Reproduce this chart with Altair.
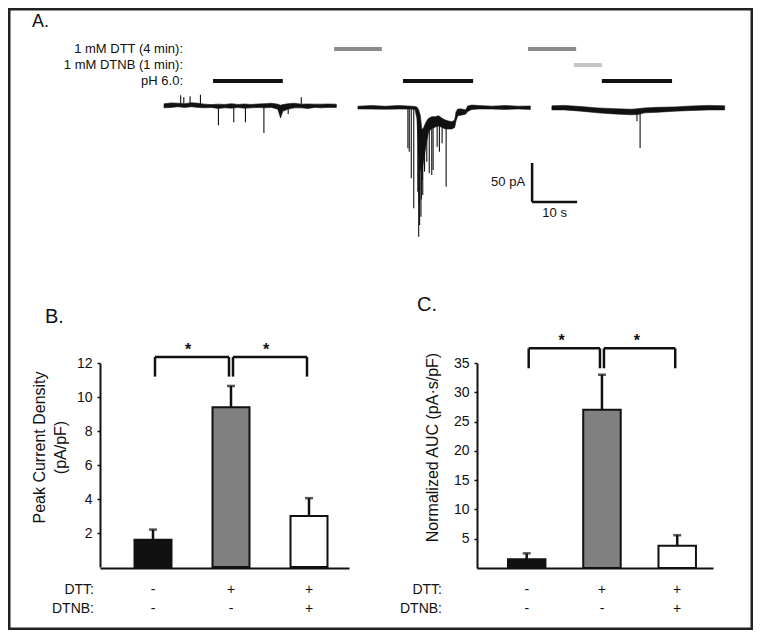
import altair as alt
import pandas as pd

FONT = "Liberation Sans"
INK = "#111111"

# ---------------- Panel A: current traces ----------------
sweep_start = [0.0, 43.1, 86.2]   # display time (s) where each sweep begins

# sweep 1 (control): noise envelope (time s, upper pA, lower pA)
s1_t = [0, 1.6, 3.1, 4.6, 6.1, 7.6, 9.0, 10.5, 12.0, 13.5, 15.0, 16.4, 17.9, 19.4,
        20.9, 22.4, 23.9, 25.3, 25.9, 26.4, 27.6, 29.0, 30.5, 32.0, 33.5, 35.0, 36.4, 38.3]
s1_hi = [2.8, 4.0, 3.6, 3.0, 4.2, 3.6, 2.4, 1.8, 2.4, 2.0, 3.0, 2.0, 2.6, 2.0,
         2.6, 3.0, 3.6, 2.4, 1.0, 1.8, 3.0, 3.6, 2.4, 2.6, 2.4, 2.4, 2.6, 2.4]
s1_lo = [-2.4, -1.8, -1.0, -1.8, -1.0, -1.8, -2.4, -1.8, -3.2, -2.4, -2.8, -2.0, -2.8, -2.4,
         -1.8, -2.4, -1.8, -4.2, -15.4, -6.8, -4.0, -2.4, -2.4, -3.2, -1.8, -2.4, -1.8, -1.8]
s1_sp_t = [3.7, 4.4, 5.8, 8.1, 30.5, 12.1, 15.5, 18.1, 22.2, 27.6]
s1_sp_base = [3, 3, 3, 3, 2, -2, -2, -2, -2, -3]
s1_sp_peak = [13.7, 11.1, 12.4, 14.5, 11.1, -24.8, -20.9, -20.9, -34.6, -10.3]

# sweep 2 (after DTT)
s2_t = [0, 3.1, 6.1, 9.0, 12.0, 12.7, 13.1, 13.5, 13.85, 14.2, 14.6, 15.0, 15.3, 15.7, 16.4,
        17.2, 17.9, 18.7, 19.4, 20.1, 20.9, 21.5, 21.8, 22.2, 23.1, 23.9, 24.4, 25.3, 26.8,
        29.8, 32.7, 35.7, 38.3]
s2_hi = [-0.2, 0.5, -0.3, 0.6, -0.2, -0.8, -1.3, -5.0, -12.0, -30.0, -28.0, -22.0, -19.0, -15.8, -13.7,
         -13.7, -12.4, -15.8, -17.9, -19.2, -20.1, -17.9, -7.3, -3.8, -3.8, -5.1, 0.0, 1.2, 0.6,
         -0.2, 0.6, -0.2, 0.0]
s2_lo = [-3.8, -4.0, -4.2, -3.9, -4.0, -4.6, -16.0, -60.0, -80.0, -85.0, -70.0, -55.0, -45.0, -33.0, -29.0,
         -27.0, -25.5, -27.5, -29.5, -29.5, -29.5, -27.5, -19.0, -12.5, -11.5, -10.5, -7.0, -4.4, -3.8,
         -3.9, -4.4, -3.8, -4.4]
s2_sp_t = [11.1, 11.4, 11.85, 12.4, 13.3, 13.5, 13.6, 13.7, 14.0, 14.1, 14.3, 14.4, 14.8, 15.3,
           15.85, 16.4, 16.7, 17.6, 18.1, 18.7, 19.6]
s2_sp_base = [-2, -2, -2, -3, -10, -20, -20, -20, -30, -30, -35, -40, -30, -25,
              -20, -20, -18, -15, -15, -18, -20]
s2_sp_peak = [-54.3, -58.5, -92.7, -131.2, -110.0, -167.5, -125.0, -152.6, -141.9, -120.0, -95.0, -114.1,
              -84.2, -71.4, -86.3, -88.5, -82.0, -52.1, -58.5, -47.9, -103.4]

# sweep 3 (DTT then DTNB)
s3_t = [0, 2.8, 6.5, 10.2, 13.9, 17.6, 19.1, 20.6, 23.6, 27.3, 31.0, 34.7, 38.4]
s3_hi = [0.2, 0.8, -0.8, -2.5, -3.4, -4.2, -3.4, -2.5, -1.7, -1.2, 0.0, 0.8, 0.2]
s3_lo = [-5.0, -5.0, -6.6, -8.8, -10.2, -11.2, -10.8, -8.8, -8.0, -6.6, -5.8, -5.0, -5.0]
s3_sp_t = [18.9, 19.6]
s3_sp_base = [-9, -9]
s3_sp_peak = [-19.7, -53.8]

# treatment bars (display time, s)
treat_rows = ["1 mM DTT (4 min):", "1 mM DTNB (1 min):", "pH 6.0:"]
treat_row = ["1 mM DTT (4 min):", "pH 6.0:", "pH 6.0:", "1 mM DTT (4 min):", "1 mM DTNB (1 min):", "pH 6.0:"]
treat_start = [37.8, 10.9, 53.1, 80.9, 91.1, 97.3]
treat_end = [48.4, 26.4, 68.7, 91.6, 97.3, 112.9]
treat_colors = ["#8a8a8a", "#c4c4c4", INK]

# scale bar
sb_t0, sb_i0 = 81.8, -123.0
sb_dt, sb_di = 10.0, 50.0

# ---------------- Panels B & C ----------------
groups = ["control", "DTT", "DTT+DTNB"]
bar_colors = [INK, "#808080", "#ffffff"]
peak_mean = [1.6, 9.4, 3.0]
peak_sem = [0.6, 1.25, 1.05]
auc_mean = [1.5, 27.0, 3.8]
auc_sem = [1.0, 6.0, 1.8]
dtt_signs = ["-", "+", "+"]
dtnb_signs = ["-", "-", "+"]
pair_left = ["control", "DTT"]
pair_right = ["DTT", "DTT+DTNB"]
peak_bracket_top, peak_bracket_leg = 12.35, 11.2
auc_bracket_top, auc_bracket_leg = 37.5, 34.1

# ---------------- data frames ----------------
env_rows, sp_rows = [], []
for k, (tt, hi, lo, st, sb, sp) in enumerate([
        (s1_t, s1_hi, s1_lo, s1_sp_t, s1_sp_base, s1_sp_peak),
        (s2_t, s2_hi, s2_lo, s2_sp_t, s2_sp_base, s2_sp_peak),
        (s3_t, s3_hi, s3_lo, s3_sp_t, s3_sp_base, s3_sp_peak)]):
    for a, b, c in zip(tt, hi, lo):
        env_rows.append({"sweep": k, "t": sweep_start[k] + a, "hi": b, "lo": c})
    for a, b, c in zip(st, sb, sp):
        sp_rows.append({"sweep": k, "t": sweep_start[k] + a, "base": b, "peak": c})
env_df = pd.DataFrame(env_rows)
sp_df = pd.DataFrame(sp_rows)
treat_df = pd.DataFrame({"row": treat_row, "start": treat_start, "end": treat_end})
treat_lab = pd.DataFrame({"row": treat_rows})
sb_df = pd.DataFrame({"t0": [sb_t0], "t1": [sb_t0 + sb_dt], "i0": [sb_i0], "i1": [sb_i0 + sb_di],
                      "imid": [sb_i0 + sb_di / 2], "tmid": [sb_t0 + sb_dt / 2]})

XA = dict(domain=[0, 125], range=[156, 718.5], nice=False, zero=False)
YA = dict(domain=[-180, 20], range=[238.4, 82.4], nice=False, zero=False)


def xa(f):
    return alt.X(f, type="quantitative", scale=alt.Scale(**XA), axis=None)


def ya(f):
    return alt.Y(f, type="quantitative", scale=alt.Scale(**YA), axis=None)


layers = []
layers.append(alt.Chart(env_df).mark_area(color=INK, stroke=INK, strokeWidth=0.6).encode(
    x=xa("t"), y=ya("lo"), y2=alt.Y2("hi"), detail="sweep:N"))
layers.append(alt.Chart(sp_df).mark_rule(color=INK, strokeWidth=1.1).encode(
    x=xa("t"), y=ya("base"), y2=alt.Y2("peak")))
layers.append(alt.Chart(treat_df).mark_rule(strokeWidth=4).encode(
    x=xa("start"), x2=alt.X2("end"),
    y=alt.Y("row:N", scale=alt.Scale(type="point", domain=treat_rows, range=[41, 73], padding=0), axis=None),
    color=alt.Color("row:N", scale=alt.Scale(domain=treat_rows, range=treat_colors), legend=None)))
layers.append(alt.Chart(treat_lab).mark_text(align="right", baseline="middle", font=FONT, fontSize=13, color=INK).encode(
    x=alt.value(175),
    y=alt.Y("row:N", scale=alt.Scale(type="point", domain=treat_rows, range=[41, 73], padding=0), axis=None),
    text="row:N"))
layers.append(alt.Chart(sb_df).mark_rule(color=INK, strokeWidth=2.5).encode(
    x=xa("t0"), y=ya("i0"), y2=alt.Y2("i1")))
layers.append(alt.Chart(sb_df).mark_rule(color=INK, strokeWidth=2.5).encode(
    x=xa("t0"), x2=alt.X2("t1"), y=ya("i0")))
layers.append(alt.Chart(sb_df).mark_text(text="50 pA", align="right", baseline="middle", dx=-7,
                                         font=FONT, fontSize=13, color=INK).encode(
    x=xa("t0"), y=ya("imid")))
layers.append(alt.Chart(sb_df).mark_text(text="10 s", align="center", baseline="middle", dy=11,
                                         font=FONT, fontSize=13, color=INK).encode(
    x=xa("tmid"), y=ya("i0")))

# panel letters
for txt, px, py, fs in [("A.", 24, 13.5, 18), ("B.", 37, 309, 20), ("C.", 409, 297, 20)]:
    layers.append(alt.Chart(pd.DataFrame({"l": [txt]})).mark_text(
        align="left", baseline="middle", font=FONT, fontSize=fs, color=INK).encode(
        x=alt.value(px), y=alt.value(py), text="l:N"))


def bar_panel(mean, sem, ydom, yrng, ytitle, yvals, axis_x, xr, pi, po, al,
              btop, bleg, title_x, label_x):
    df = pd.DataFrame({"group": groups, "mean": mean, "top": [m + s for m, s in zip(mean, sem)]})
    br = pd.DataFrame({"left": pair_left, "right": pair_right,
                       "top": [btop] * len(pair_left), "leg": [bleg] * len(pair_left)})
    tab = pd.DataFrame({"group": groups * 2, "row": ["DTT:"] * 3 + ["DTNB:"] * 3,
                        "sign": dtt_signs + dtnb_signs})
    rows = pd.DataFrame({"row": ["DTT:", "DTNB:"]})
    xs = dict(type="band", domain=groups, range=xr, paddingInner=pi, paddingOuter=po, align=al, round=False)
    ys = dict(domain=ydom, range=yrng, nice=False, zero=False)
    yrow = alt.Y("row:N", scale=alt.Scale(type="point", domain=["DTT:", "DTNB:"], range=[582, 601], padding=0),
                 axis=None)

    def xb(f, axis=None):
        return alt.X(f, type="nominal", scale=alt.Scale(**xs), axis=axis, title=None)

    def yb(f, axis=None):
        return alt.Y(f, type="quantitative", scale=alt.Scale(**ys), axis=axis)

    yaxis = alt.Axis(orient="left", offset=-axis_x, values=yvals, grid=False,
                     domainColor=INK, domainWidth=2, tickColor=INK, tickWidth=1.5, tickSize=3,
                     labelFont=FONT, labelFontSize=14, labelColor=INK, labelPadding=5,
                     title=ytitle, titleFont=FONT, titleFontSize=16, titleFontWeight="normal",
                     titleColor=INK, titleLineHeight=21, titleX=title_x, titleY=439,
                     titleBaseline="top", titleAlign="center", titleAngle=270)
    xaxis = alt.Axis(orient="bottom", offset=-62, labels=False, ticks=False, grid=False,
                     domainColor=INK, domainWidth=2)
    out = []
    out.append(alt.Chart(df).mark_bar(stroke=INK, strokeWidth=2).encode(
        x=xb("group", xaxis), y=yb("mean", yaxis), y2=alt.datum(0),
        color=alt.Color("group:N", scale=alt.Scale(domain=groups, range=bar_colors), legend=None)))
    out.append(alt.Chart(df).mark_rule(color=INK, strokeWidth=2.5).encode(
        x=xb("group"), y=yb("mean"), y2=alt.Y2("top")))
    out.append(alt.Chart(df).mark_tick(color=INK, size=8, thickness=2.5, orient="horizontal").encode(
        x=xb("group"), y=yb("top")))
    out.append(alt.Chart(br).mark_rule(color=INK, strokeWidth=2.5, xOffset=2, x2Offset=-2).encode(
        x=xb("left"), x2=alt.X2("right"), y=yb("top")))
    out.append(alt.Chart(br).mark_rule(color=INK, strokeWidth=2.5, xOffset=2).encode(
        x=xb("left"), y=yb("top"), y2=alt.Y2("leg")))
    out.append(alt.Chart(br).mark_rule(color=INK, strokeWidth=2.5, xOffset=-2).encode(
        x=xb("right"), y=yb("top"), y2=alt.Y2("leg")))
    out.append(alt.Chart(br).mark_text(text="*", dx=35, dy=-7, font=FONT, fontSize=16, fontWeight="bold",
                                       color=INK, baseline="middle").encode(x=xb("left"), y=yb("top")))
    out.append(alt.Chart(tab).mark_text(font=FONT, fontSize=14, color=INK, baseline="middle").encode(
        x=xb("group"), y=yrow, text="sign:N"))
    out.append(alt.Chart(rows).mark_text(font=FONT, fontSize=14, color=INK, align="right",
                                         baseline="middle").encode(
        x=alt.value(label_x), y=yrow, text="row:N"))
    return out


layers += bar_panel(peak_mean, peak_sem, [0, 12], [559, 355], ["Peak Current Density", "(pA/pF)"],
                    [2, 4, 6, 8, 10, 12], 92, [92, 341], 0.526, 0.359, 0.616,
                    peak_bracket_top, peak_bracket_leg, -69, 86)
layers += bar_panel(auc_mean, auc_sem, [0, 35], [560, 355], "Normalized AUC (pA·s/pF)",
                    [5, 10, 15, 20, 25, 30, 35], 469, [469, 705], 0.502, 0.319, 0.645,
                    auc_bracket_top, auc_bracket_leg, -53, 434)

chart = alt.layer(*layers).resolve_scale(
    x="independent", y="independent", color="independent"
).properties(
    width=745, height=622, padding=0, autosize=alt.AutoSizeParams(type="none")
).configure_view(stroke="#222222", strokeWidth=5)

chart.save("out.html", embed_options={"renderer": "svg", "actions": False})
